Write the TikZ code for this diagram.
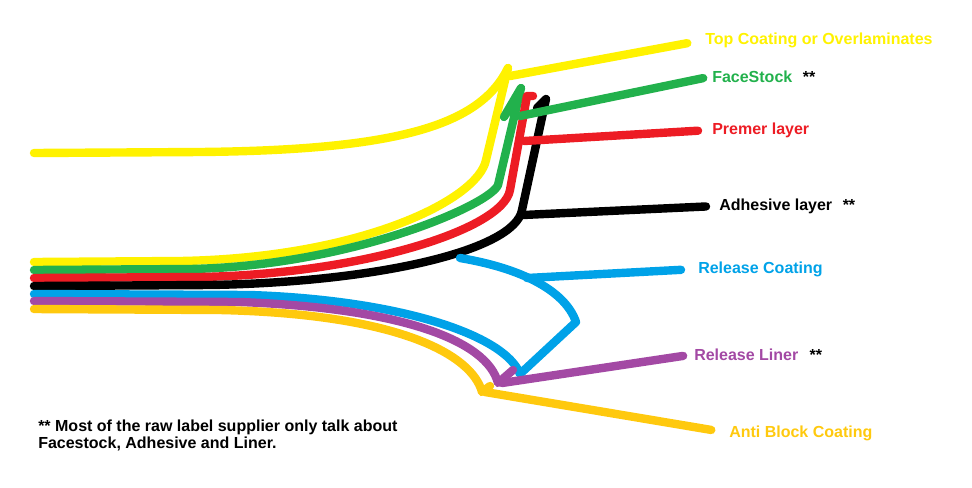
\documentclass[tikz,border=0pt]{standalone}
\usepackage{fontspec}
\setmainfont{Liberation Sans}
\usepackage{tikz}
\usetikzlibrary{positioning}
\definecolor{pyellow}{RGB}{255,242,0}
\definecolor{pgreen}{RGB}{34,177,76}
\definecolor{pred}{RGB}{237,28,36}
\definecolor{pblue}{RGB}{0,162,232}
\definecolor{ppurple}{RGB}{163,73,164}
\definecolor{porange}{RGB}{255,201,14}
\tikzset{layer/.style={line width=6.3pt, line cap=round, line join=round},
	lbl/.style={anchor=base west, inner sep=0pt, font=\bfseries\fontsize{12}{14}\selectfont},
	stars/.style={inner sep=0pt, font=\bfseries\fontsize{12}{14}\selectfont}}

\begin{document}
\begin{tikzpicture}[x=0.75pt,y=-0.75pt]
		\useasboundingbox (0,0) rectangle (972,487);
		
		\node[lbl,text=pyellow] (top) at (705,44) {Top Coating or Overlaminates};
		\node[lbl,text=pgreen] (face) at (712,82) {FaceStock};
		\node[lbl,text=pred] (primer) at (712,134) {Premer layer};
		\node[lbl] (adh) at (719,210) {Adhesive layer};
		\node[lbl,text=pblue] (rcoat) at (698,273) {Release Coating};
		\node[lbl,text=ppurple] (rliner) at (694,360) {Release Liner};
		\node[lbl,text=porange] (anti) at (729,437) {Anti Block Coating};
		\node[stars, base right=7.5pt of face] (s1) {**};
		\node[stars, base right=7.5pt of adh] (s2) {**};
		\node[stars, base right=8pt of rliner] (s3) {**};
		\node[lbl, anchor=north west, align=left, font=\bfseries\fontsize{12}{12.75}\selectfont] (note) at (38,420)
			{** Most of the raw label supplier only talk about\\Facestock, Adhesive and Liner.};
		
		\coordinate (yj) at (510,76);
		\coordinate (gj) at (520,116);
		\coordinate (rj) at (524,141);
		\coordinate (kj) at (523,215);
		\coordinate (bj) at (527,278);
		\coordinate (pj) at (502,383);
		\coordinate (oj) at (485,392);
		
		% the layers
		\draw[layer, pyellow] (34,153) -- (200,152) .. controls (400,150) and (480,125) .. (508,68);
		\draw[layer, pyellow] (34,262) -- (180,261) .. controls (360,258) and (478,200) .. (486,160) -- (508,68);
		\draw[layer, pgreen] (34,270) -- (190,269) .. controls (350,266) and (490,205) .. (498,185) -- (521,88) -- (504,117);
		\draw[layer, pred] (34,278) -- (200,277) .. controls (360,274) and (503,230) .. (510,190) -- (527,96) -- (533,96);
		\draw[layer, black] (34,286) -- (210,285) .. controls (380,282) and (515,250) .. (522,210) -- (546,99) -- (537,108);
		\draw[layer, pblue] (34,294) -- (250,295) .. controls (400,300) and (505,335) .. (520,374) -- (576,322)
			.. controls (565,290) and (520,268) .. (460,258);
		\draw[layer, ppurple] (34,301) -- (240,302) .. controls (400,308) and (487,340) .. (498,383) -- (513,370);
		\draw[layer, porange] (34,309) -- (220,310) .. controls (400,314) and (472,355) .. (482,392) -- (490,386);
		
		% to the labels
		\draw[layer, pyellow, shorten >=13.5pt] (yj) -- (top.west);
		\draw[layer, pgreen, shorten >=6.75pt] (gj) -- (face.west);
		\draw[layer, pred, shorten >=10.5pt] (rj) -- (primer.west);
		\draw[layer, black, shorten >=9.75pt] (kj) -- (adh.west);
		\draw[layer, pblue, shorten >=12.75pt] (bj) -- (rcoat.west);
		\draw[layer, ppurple, shorten >=8.25pt] (pj) -- (rliner.west);
		\draw[layer, porange, shorten >=13.5pt] (oj) -- (anti.west);
\end{tikzpicture}
\end{document}
